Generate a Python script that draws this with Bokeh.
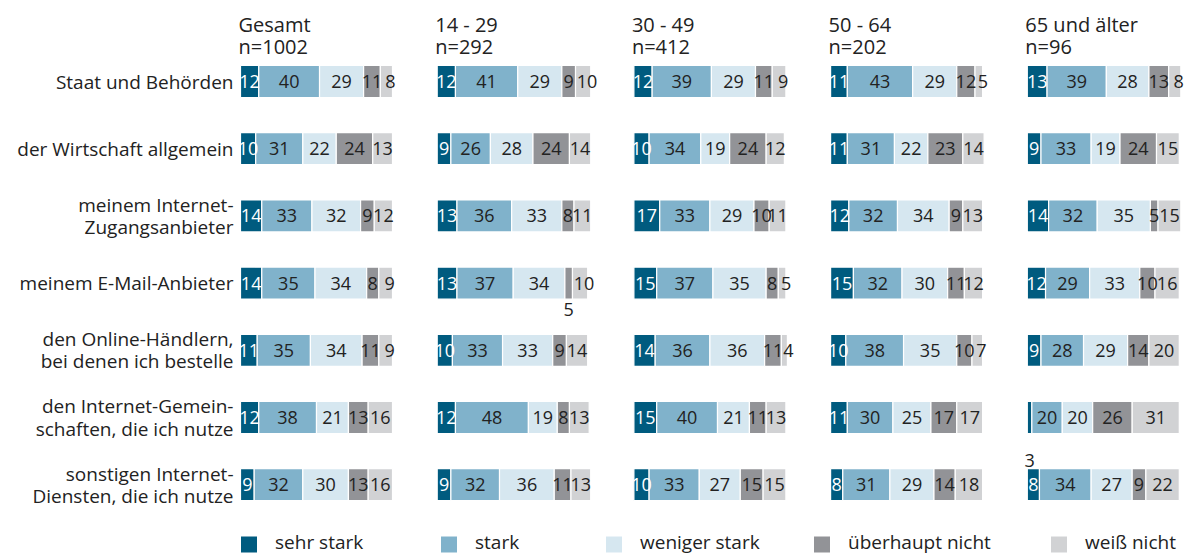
from bokeh.plotting import figure
from bokeh.models import Range1d, ColumnDataSource
from bokeh.embed import file_html
from bokeh.resources import INLINE
from bokeh.core.properties import value

# ---------------- data ----------------
categories = [
    "Staat und Behörden",
    "der Wirtschaft allgemein",
    "meinem Internet-\nZugangsanbieter",
    "meinem E-Mail-Anbieter",
    "den Online-Händlern,\nbei denen ich bestelle",
    "den Internet-Gemein-\nschaften, die ich nutze",
    "sonstigen Internet-\nDiensten, die ich nutze",
]
groups = ["Gesamt", "14 - 29", "30 - 49", "50 - 64", "65 und älter"]
group_n = ["n=1002", "n=292", "n=412", "n=202", "n=96"]
levels = ["sehr stark", "stark", "weniger stark", "überhaupt nicht", "weiß nicht"]

# per row: [sehr stark, stark, weniger stark, überhaupt nicht, weiß nicht]
gesamt = [[12, 40, 29, 11, 8], [10, 31, 22, 24, 13], [14, 33, 32, 9, 12], [14, 35, 34, 8, 9],
          [11, 35, 34, 11, 9], [12, 38, 21, 13, 16], [9, 32, 30, 13, 16]]
age_14_29 = [[12, 41, 29, 9, 10], [9, 26, 28, 24, 14], [13, 36, 33, 8, 11], [13, 37, 34, 5, 10],
             [10, 33, 33, 9, 14], [12, 48, 19, 8, 13], [9, 32, 36, 11, 13]]
age_30_49 = [[12, 39, 29, 11, 9], [10, 34, 19, 24, 12], [17, 33, 29, 10, 11], [15, 37, 35, 8, 5],
             [14, 36, 36, 11, 4], [15, 40, 21, 11, 13], [10, 33, 27, 15, 15]]
age_50_64 = [[11, 43, 29, 12, 5], [11, 31, 22, 23, 14], [12, 32, 34, 9, 13], [15, 32, 30, 11, 12],
             [10, 38, 35, 10, 7], [11, 30, 25, 17, 17], [8, 31, 29, 14, 18]]
age_65 = [[13, 39, 28, 13, 8], [9, 33, 19, 24, 15], [14, 32, 35, 5, 15], [12, 29, 33, 10, 16],
          [9, 28, 29, 14, 20], [3, 20, 20, 26, 31], [8, 34, 27, 9, 22]]
all_data = [gesamt, age_14_29, age_30_49, age_50_64, age_65]

colors = ["#005b7f", "#80b2cb", "#d6e7f0", "#929397", "#d1d2d4"]
label_colors = ["white", "#222222", "#222222", "#222222", "#222222"]

# ---------------- layout ----------------
W, H = 1184, 555
SCALE = 1.52          # px per percent point
X0_PX = 240           # first panel bar start (px)
PANEL_PX = 196.7      # distance between panels (px)
ROW0_PX = 81          # first row centre (px)
ROW_PX = 67.2         # row distance (px)
BAR_H = 32 / ROW_PX
FONT = value("Open Sans")
TXT = "#222222"
# labels drawn below the bar: (group, row, level) -> px offset
BELOW = {(1, 3, 3): 26, (4, 5, 0): 43}


def xd(px):
    return px / SCALE


def yd(px):
    return (px - ROW0_PX) / ROW_PX


p = figure(width=W, height=H, output_backend="svg", toolbar_location=None,
           x_range=Range1d(0, xd(W)), y_range=Range1d(yd(H), yd(0)),
           x_axis_type=None, y_axis_type=None, min_border=0,
           outline_line_color=None, background_fill_color="white")
p.grid.visible = False

bars = dict(y=[], left=[], right=[], color=[])
labs = dict(x=[], y=[], text=[], color=[], xo=[], yo=[])
for g, rows in enumerate(all_data):
    start = xd(X0_PX + g * PANEL_PX)
    for r, vals in enumerate(rows):
        cum = 0
        for k, v in enumerate(vals):
            left = start + cum
            right = left + v
            bars["y"].append(r)
            bars["left"].append(left)
            bars["right"].append(right)
            bars["color"].append(colors[k])
            cum += v
            xo, yo, col = 0, 0, label_colors[k]
            if (g, r, k) in BELOW:
                yo = BELOW[(g, r, k)]
                col = TXT
            elif k == 4 and v < 11:
                xo = 4
            labs["x"].append((left + right) / 2)
            labs["y"].append(r)
            labs["text"].append(str(v))
            labs["color"].append(col)
            labs["xo"].append(xo)
            labs["yo"].append(yo)

p.hbar(y="y", left="left", right="right", height=BAR_H, fill_color="color",
       line_color="white", line_width=1.2, source=ColumnDataSource(bars))
p.text(x="x", y="y", text="text", text_color="color", x_offset="xo", y_offset="yo",
       text_align="center", text_baseline="middle", text_font=FONT,
       text_font_size=value("18px"), source=ColumnDataSource(labs))

# category labels
p.text(x=[xd(X0_PX - 7)] * len(categories), y=list(range(len(categories))), text=categories,
       text_align="right", text_baseline="middle", text_font=FONT,
       text_font_size=value("19px"), text_color=TXT, text_line_height=0.86)

# panel headers
hx = [xd(X0_PX - 2 + g * PANEL_PX) for g in range(len(groups))]
p.text(x=hx, y=[yd(24)] * len(groups), text=groups, text_align="left", text_baseline="middle",
       text_font=FONT, text_font_size=value("20px"), text_color=TXT)
p.text(x=hx, y=[yd(46)] * len(groups), text=group_n, text_align="left", text_baseline="middle",
       text_font=FONT, text_font_size=value("20px"), text_color=TXT)

# legend
leg_sq_px = [248.5, 448.5, 613.5, 821.5, 1058.5]
p.scatter(x=[xd(v) for v in leg_sq_px], y=[yd(544)] * 5, marker="square", size=16,
          fill_color=colors, line_color=None)
p.text(x=[xd(v + 26) for v in leg_sq_px], y=[yd(541)] * 5, text=levels, text_align="left",
       text_baseline="middle", text_font=FONT, text_font_size=value("19px"), text_color=TXT)

open("out.html", "w").write(file_html(p, INLINE))
